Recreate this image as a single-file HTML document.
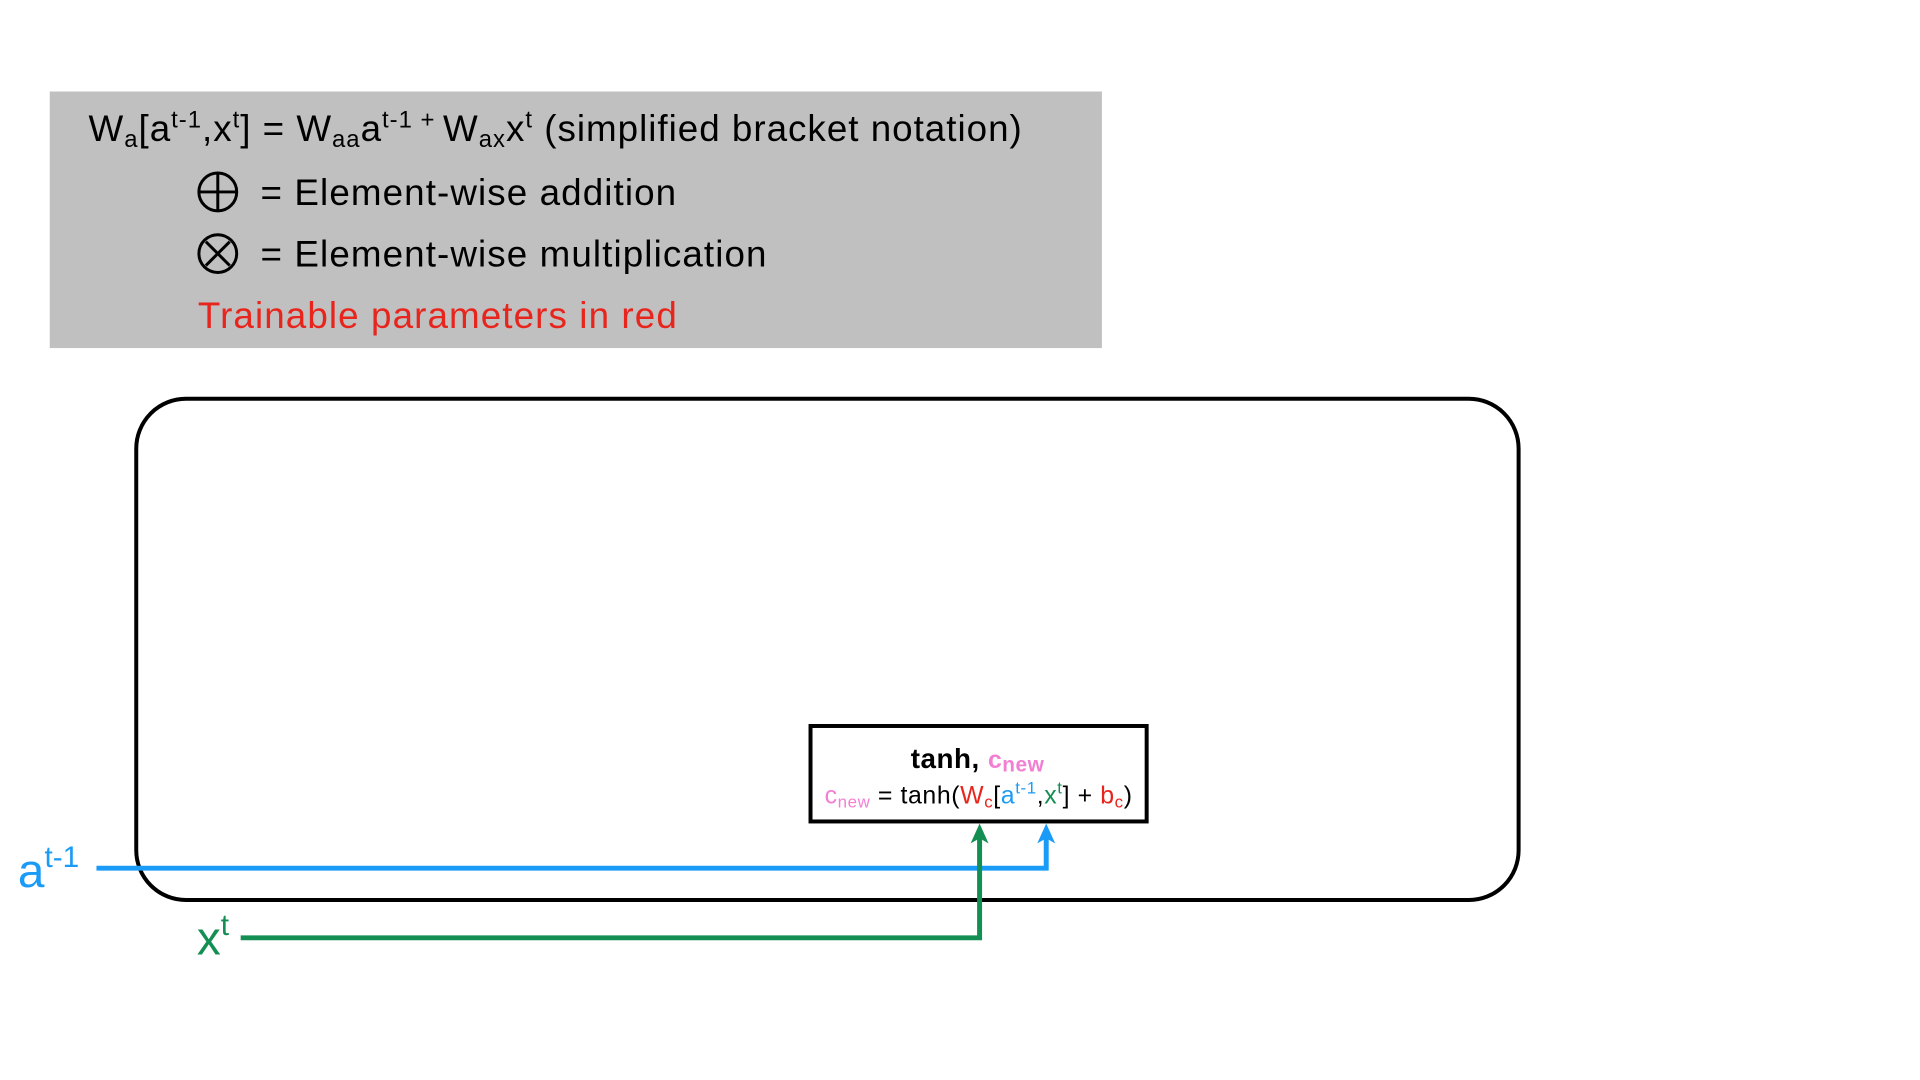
<!DOCTYPE html>
<html><head><meta charset="utf-8"><style>
html,body{margin:0;padding:0;background:#fff;}
svg{display:block;font-family:"Liberation Sans",sans-serif;}
</style></head><body>
<svg width="1920" height="1080" viewBox="0 0 1920 1080" xmlns="http://www.w3.org/2000/svg">
<g transform="scale(0.9945)">
<rect x="50" y="92" width="1058" height="258" fill="#c0c0c0"/>
<text x="89" y="142" font-size="37" fill="#000" letter-spacing="1">W<tspan font-size="24" dy="6">a</tspan><tspan dy="-6">[a</tspan><tspan font-size="24" dy="-14">t-1</tspan><tspan dy="14">,x</tspan><tspan font-size="24" dy="-14">t</tspan><tspan dy="14">] = W</tspan><tspan font-size="24" dy="6">aa</tspan><tspan dy="-6">a</tspan><tspan font-size="24" dy="-14">t-1 + </tspan><tspan dy="14">W</tspan><tspan font-size="24" dy="6">ax</tspan><tspan dy="-6">x</tspan><tspan font-size="24" dy="-14">t</tspan><tspan dy="14"> (simplified bracket notation)</tspan></text>
<circle cx="219" cy="193" r="19" fill="none" stroke="#000" stroke-width="3"/>
<line x1="200" y1="193" x2="238" y2="193" stroke="#000" stroke-width="3"/>
<line x1="219" y1="174" x2="219" y2="212" stroke="#000" stroke-width="3"/>
<text x="262" y="206" font-size="37" letter-spacing="1.1">= Element-wise addition</text>
<circle cx="219" cy="255" r="19" fill="none" stroke="#000" stroke-width="3"/>
<line x1="207" y1="243" x2="231" y2="267" stroke="#000" stroke-width="3"/>
<line x1="231" y1="243" x2="207" y2="267" stroke="#000" stroke-width="3"/>
<text x="262" y="268" font-size="37" letter-spacing="1.1">= Element-wise multiplication</text>
<text x="199" y="330" font-size="37" fill="#e8251c" letter-spacing="1.1">Trainable parameters in red</text>
<rect x="137" y="401" width="1390" height="504" rx="50" fill="none" stroke="#000" stroke-width="4"/>
<rect x="815" y="730" width="338" height="96" fill="#fff" stroke="#000" stroke-width="4"/>
<text x="983" y="772" font-size="28" font-weight="bold" text-anchor="middle" letter-spacing="0.5">tanh, <tspan fill="#f27fd3" font-size="25">c</tspan><tspan fill="#f27fd3" font-size="21" dy="4">new</tspan></text>
<text x="984" y="808" font-size="25" text-anchor="middle" letter-spacing="0.6"><tspan fill="#f27fd3">c</tspan><tspan fill="#f27fd3" font-size="17" dy="4">new</tspan><tspan dy="-4"> = tanh(</tspan><tspan fill="#e8251c">W</tspan><tspan fill="#e8251c" font-size="17" dy="4">c</tspan><tspan dy="-4">[</tspan><tspan fill="#1a9bf7">a</tspan><tspan fill="#1a9bf7" font-size="17" dy="-10">t-1</tspan><tspan dy="10">,</tspan><tspan fill="#138f53">x</tspan><tspan fill="#138f53" font-size="17" dy="-10">t</tspan><tspan dy="10">] + </tspan><tspan fill="#e8251c">b</tspan><tspan fill="#e8251c" font-size="17" dy="4">c</tspan><tspan dy="-4">)</tspan></text>
<polyline points="97,873 1052,873 1052,840" fill="none" stroke="#1a9bf7" stroke-width="5"/>
<polygon points="1052,828 1043,848 1052,843 1061,848" fill="#1a9bf7"/>
<polyline points="242,943 985,943 985,840" fill="none" stroke="#138f53" stroke-width="5"/>
<polygon points="985,828 976,848 985,843 994,848" fill="#138f53"/>
<text x="18" y="892" font-size="48" fill="#1a9bf7">a<tspan font-size="30" dy="-20">t-1</tspan></text>
<text x="198" y="960" font-size="48" fill="#138f53">x<tspan font-size="30" dy="-20">t</tspan></text>
</g>
</svg>
</body></html>
